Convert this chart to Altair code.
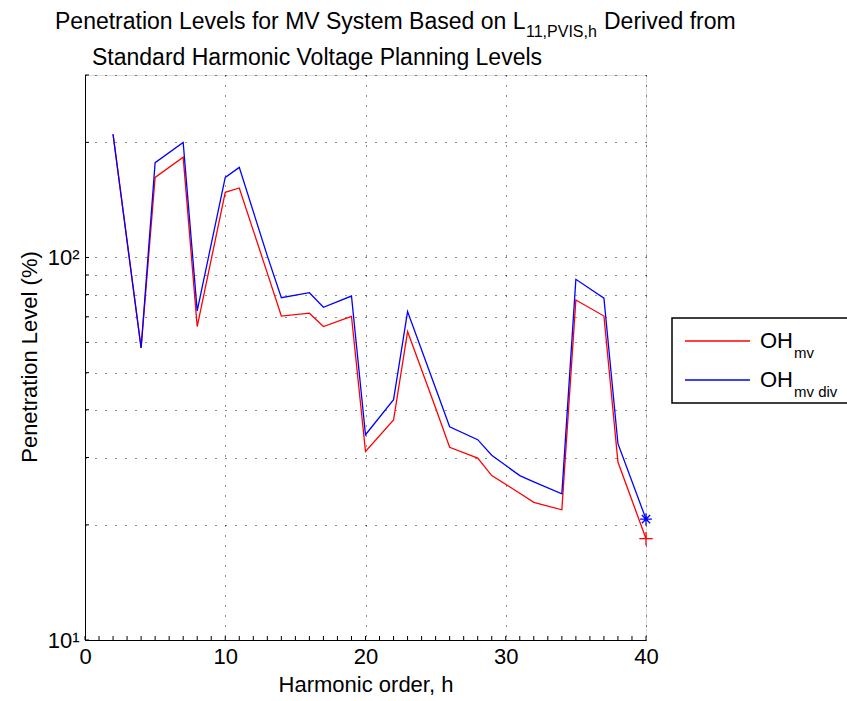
import altair as alt
import pandas as pd

# ---- data ----
harmonic = [2, 4, 5, 7, 8, 10, 11, 13, 14, 16, 17, 19, 20, 22, 23, 25, 26, 28, 29, 31, 32, 34, 35, 37, 38, 40]
oh_mv = [210, 58, 162, 183, 66, 148, 152, 91, 70.3, 71.5, 66, 70.2, 31.1, 37.6, 64, 40.4, 31.9, 29.9, 26.9,
         24.2, 22.9, 21.9, 77.4, 70.3, 29.2, 18.4]
oh_mv_div = [210, 58, 177, 200, 72.5, 162, 172, 101, 78.5, 80.9, 74.1, 79.3, 34.4, 42.5, 72.2, 45.5, 36.1, 33.4,
             30.4, 26.9, 25.9, 24.1, 87.7, 78.3, 32.6, 20.7]
x_ticks = [0, 10, 20, 30, 40]
x_minor = list(range(0, 41))
y_ticks = [10, 20, 30, 40, 50, 60, 70, 80, 90, 100, 200, 300]

FONT = "Liberation Sans"
PADL, PADT = 85, 75
W, H = 561, 565

df = pd.DataFrame({
    "h": harmonic * 2,
    "v": oh_mv + oh_mv_div,
    "s": ["OH_mv"] * len(harmonic) + ["OH_mv_div"] * len(harmonic),
})
red = df[df.s == "OH_mv"]
blue = df[df.s == "OH_mv_div"]

xs = alt.Scale(domain=[0, 40], nice=False, zero=False)
ys = alt.Scale(type="log", domain=[10, 300], nice=False)

xaxis = alt.Axis(values=x_ticks, ticks=False, labelFontSize=22, labelFont=FONT, labelColor="black",
                 labelPadding=6, domainColor="black", domainWidth=1, grid=True, gridColor="black",
                 gridDash=[1, 9], gridOpacity=0.9, gridWidth=1, title=None, labelFlush=False)
yaxis = alt.Axis(values=y_ticks, ticks=False, labelFontSize=22, labelFont=FONT, labelColor="black",
                 labelPadding=6, domainColor="black", domainWidth=1, grid=True, gridColor="black",
                 gridDash=[1, 9], gridOpacity=0.9, gridWidth=1, title=None, labelFlush=False,
                 labelExpr="datum.value == 10 ? '10\u00b9' : (datum.value == 100 ? '10\u00b2' : '')")

base_red = alt.Chart(red).mark_line(color="#ff0000", strokeWidth=1.3).encode(
    x=alt.X("h:Q", scale=xs, axis=xaxis),
    y=alt.Y("v:Q", scale=ys, axis=yaxis),
)
base_blue = alt.Chart(blue).mark_line(color="#0000ff", strokeWidth=1.3).encode(
    x=alt.X("h:Q", scale=xs), y=alt.Y("v:Q", scale=ys))

PLUS = "M-1,0L1,0M0,-1L0,1"
ASTER = "M-1,0L1,0M0,-1L0,1M-0.7,-0.7L0.7,0.7M-0.7,0.7L0.7,-0.7"
last_red = alt.Chart(red.tail(1)).mark_point(shape=PLUS, filled=False, color="#ff0000", size=180,
                                             strokeWidth=1.3, opacity=1).encode(
    x=alt.X("h:Q", scale=xs), y=alt.Y("v:Q", scale=ys))
last_blue = alt.Chart(blue.tail(1)).mark_point(shape=ASTER, filled=False, color="#0000ff", size=140,
                                               strokeWidth=1.3, opacity=1).encode(
    x=alt.X("h:Q", scale=xs), y=alt.Y("v:Q", scale=ys))

# inward minor ticks
xt = alt.Chart(pd.DataFrame({"h": x_minor})).mark_rule(color="black", strokeWidth=1).encode(
    x=alt.X("h:Q", scale=xs), y=alt.value(H), y2=alt.value(H - 4))
yt = alt.Chart(pd.DataFrame({"v": y_ticks})).mark_rule(color="black", strokeWidth=1).encode(
    y=alt.Y("v:Q", scale=ys), x=alt.value(0), x2=alt.value(4))

one = pd.DataFrame({"a": [0]})


def txt(s, px, py, size=22, align="left", baseline="alphabetic", angle=0, color="black"):
    kw = dict(text=s, fontSize=size, font=FONT, align=align, baseline=baseline, color=color)
    if angle:
        kw["angle"] = angle
    return alt.Chart(one).mark_text(**kw).encode(x=alt.value(px - PADL), y=alt.value(py - PADT))


texts = [
    txt("Penetration Levels for MV System Based on L", 55, 29, size=23),
    txt("11,PVIS,h", 526, 37, size=16),
    txt("Derived from", 604, 29, size=23),
    txt("Standard Harmonic Voltage Planning Levels", 92, 65, size=23),
    txt("Harmonic order, h", 366, 692, align="center"),
    txt("Penetration Level (%)", 30, 357, align="center", baseline="middle", angle=270),
]

# legend box
leg_box = alt.Chart(one).mark_rect(fill="white", stroke="black", strokeWidth=1.5).encode(
    x=alt.value(672 - PADL), x2=alt.value(860 - PADL), y=alt.value(318 - PADT), y2=alt.value(403 - PADT))
leg_red = alt.Chart(one).mark_rule(color="#ff0000", strokeWidth=1.3).encode(
    x=alt.value(685 - PADL), x2=alt.value(750 - PADL), y=alt.value(341 - PADT))
leg_blue = alt.Chart(one).mark_rule(color="#0000ff", strokeWidth=1.3).encode(
    x=alt.value(685 - PADL), x2=alt.value(750 - PADL), y=alt.value(380 - PADT))
leg_texts = [
    txt("OH", 760, 348, size=22),
    txt("mv", 794, 358, size=15),
    txt("OH", 760, 387, size=22),
    txt("mv div", 794, 397, size=15),
]

chart = alt.layer(base_red, base_blue, last_red, last_blue, xt, yt, *texts, leg_box, leg_red, leg_blue,
                  *leg_texts).properties(
    width=W, height=H,
    autosize=alt.AutoSizeParams(type="none"),
    padding={"left": PADL, "top": PADT, "right": 847 - PADL - W, "bottom": 701 - PADT - H},
).configure_view(stroke=None).configure(background="white")

chart.save("out.html", embed_options={"renderer": "svg", "actions": False})
